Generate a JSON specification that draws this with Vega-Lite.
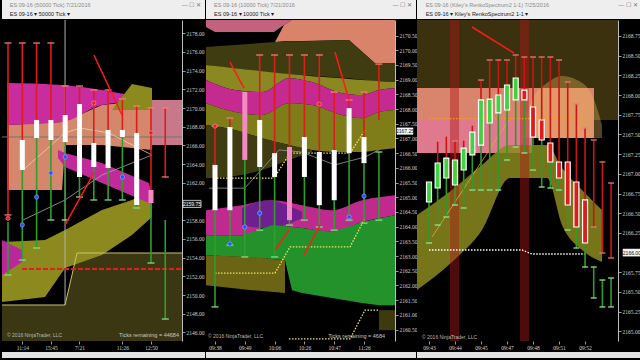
{
"$schema": "https://vega.github.io/schema/vega-lite/v6.json",
"background": "#000000",
"padding": 0,
"columns": 3,
"spacing": {"row": 1, "column": 1},
"bounds": "flush",
"align": "each",
"resolve": {"scale": {"color": "independent"}},
"config": {
 "view": {"stroke": null},
 "font": "Liberation Sans",
 "scale": {"continuousPadding": 0},
 "axis": {"grid": false, "labelColor": "#d2d2d2", "labelFont": "Liberation Sans Narrow", "labelFontSize": 5.5, "tickColor": "#9a9a9a", "tickSize": 3, "labelPadding": 1, "domainColor": "#bdbdbd", "labelOverlap": false, "labelFlush": false},
 "axisX": {"domain": false}
},
"datasets": {
 "p1b": [
  {"b":"darkolive","i":0.58,"p":2148.94,"q":2145.09},{"b":"darkolive","i":4.99,"p":2148.94,"q":2145.09},{"b":"darkolive","i":5.83,"p":2154.5,"q":2145.09},{"b":"darkolive","i":13.17,"p":2154.5,"q":2145.09},
  {"b":"peach","i":0.93,"p":2168.19,"q":2161.24},{"b":"peach","i":4.78,"p":2168.51,"q":2161.24},{"b":"peach","i":4.99,"p":2168.6,"q":2166.05},{"b":"peach","i":7.57,"p":2170.33,"q":2166.05},{"b":"peach","i":11.07,"p":2170.87,"q":2165.52},
  {"b":"mauve","i":11.07,"p":2170.87,"q":2166.05},{"b":"mauve","i":13.17,"p":2170.87,"q":2166.05},
  {"b":"mag1","i":0.93,"p":2172.68,"q":2168.19},{"b":"mag1","i":4.78,"p":2172.47,"q":2168.51},{"b":"mag1","i":7.57,"p":2171.94,"q":2170.33},{"b":"mag1","i":11.07,"p":2170.87,"q":2170.87},
  {"b":"olivetri","i":8.27,"p":2169.8,"q":2169.8},{"b":"olivetri","i":9.67,"p":2172.58,"q":2169.8},{"b":"olivetri","i":11.07,"p":2172.15,"q":2169.8},
  {"b":"olive","i":0.58,"p":2155.68,"q":2149.26},{"b":"olive","i":3.59,"p":2155.89,"q":2149.8},{"b":"olive","i":4.99,"p":2156.96,"q":2152.9},{"b":"olive","i":7.57,"p":2159.1,"q":2154.29},{"b":"olive","i":9.67,"p":2160.17,"q":2156.43},{"b":"olive","i":11.07,"p":2161.24,"q":2158.35},
  {"b":"mag2","i":4.5,"p":2165.52,"q":2164.66},{"b":"mag2","i":4.99,"p":2165.2,"q":2163.7},{"b":"mag2","i":7.57,"p":2164.13,"q":2161.99},{"b":"mag2","i":10.86,"p":2161.99,"q":2159.85},{"b":"mag2","i":11.07,"p":2160.71,"q":2159.64},
  {"b":"mag3","i":0.58,"p":2155.89,"q":2152.15},{"b":"mag3","i":1.98,"p":2154.82,"q":2153.54}
 ],
 "p1l": [
  {"l":"border","i":0.58,"p":2148.94},{"l":"border","i":4.99,"p":2148.94},{"l":"border","i":5.83,"p":2154.5},{"l":"border","i":13.17,"p":2154.5},
  {"l":"reddash","i":1.98,"p":2152.79},{"l":"reddash","i":13.17,"p":2152.79},
  {"l":"vgray","i":4.99,"p":2179.42},{"l":"vgray","i":4.99,"p":2148.94},
  {"l":"hgray","i":0.58,"p":2166.91},{"l":"hgray","i":13.17,"p":2166.91},
  {"l":"gray2","i":2.05,"p":2158.03},{"l":"gray2","i":4.99,"p":2160.17},{"l":"gray2","i":7.57,"p":2162.84},{"l":"gray2","i":11.07,"p":2164.98},
  {"l":"ma","i":2.05,"p":2163.38},{"l":"ma","i":4.99,"p":2167.34},{"l":"ma","i":6.03,"p":2167.87},{"l":"ma","i":8.06,"p":2167.34},{"l":"ma","i":11.07,"p":2164.98}
 ],
 "p1c": [
  {"i":1,"hi":2176.96,"bt":2158.57,"bb":2157.82,"lo":2152.15,"d":"gap"},
  {"i":2,"hi":2176.96,"bt":2166.59,"bb":2163.38,"lo":2153.75,"d":"up"},
  {"i":3,"hi":2176.96,"bt":2168.73,"bb":2166.8,"lo":2155.04,"d":"up"},
  {"i":4,"hi":2176.96,"bt":2168.73,"bb":2166.59,"lo":2158.03,"d":"up"},
  {"i":5,"hi":2172.36,"bt":2169.26,"bb":2166.37,"lo":2158.03,"d":"up"},
  {"i":6,"hi":2172.36,"bt":2170.44,"bb":2162.63,"lo":2160.49,"d":"up"},
  {"i":7,"hi":2171.94,"bt":2166.27,"bb":2163.7,"lo":2160.17,"d":"up"},
  {"i":8,"hi":2171.94,"bt":2167.66,"bb":2163.59,"lo":2160.17,"d":"up"},
  {"i":9,"hi":2170.97,"bt":2167.66,"bb":2166.91,"lo":2160.17,"d":"up"},
  {"i":10,"hi":2170.22,"bt":2167.34,"bb":2159.64,"lo":2159.32,"d":"up"},
  {"i":11,"hi":2170.01,"bt":2161.24,"bb":2159.85,"lo":2153.43,"d":"down"},
  {"i":12,"hi":2170.01,"bt":2162.63,"bb":2158.03,"lo":2147.44,"d":"gap"}
 ],
 "p1d": [
  {"k":"blue","i":2,"p":2157.5},{"k":"blue","i":3,"p":2160.49},{"k":"blue","i":4,"p":2163.06},{"k":"blue","i":5,"p":2164.77},{"k":"blue","i":9,"p":2162.63},
  {"k":"red","i":7,"p":2170.55},{"k":"red","i":11,"p":2167.34},{"k":"red","i":1,"p":2158.2}
 ],
 "p1a": [
  {"i":7.01,"p":2175.68,"i2":8.97,"q":2169.26},{"i":4.99,"p":2157.5,"i2":7.01,"q":2163.06}
 ],
 "p1t": [
  {"k":"copy","i":0.93,"p":2145.75,"t":"© 2016 NinjaTrader, LLC"},{"k":"ticks","i":12.96,"p":2145.75,"t":"Ticks remaining = 44684"},
  {"k":"price","i":13.87,"p":2159.75,"t":"2159.75"}
 ],
 "p1m": [{"i":13.24,"i2":14.5,"p":2160.13,"q":2159.37}],
 "p2b": [
  {"b":"pinkTL","i":0.396,"p":2171.03,"q":2170.79},{"b":"pinkTL","i":1.0,"p":2171.03,"q":2170.62},{"b":"pinkTL","i":4.96,"p":2171.03,"q":2170.62},{"b":"pinkTL","i":5.631,"p":2171.03,"q":2170.86},{"b":"pinkTL","i":6.168,"p":2171.03,"q":2171.03},
  {"b":"salmon","i":5.027,"p":2170.28,"q":2170.28},{"b":"salmon","i":5.631,"p":2170.86,"q":2170.31},{"b":"salmon","i":6.168,"p":2171.03,"q":2170.31},{"b":"salmon","i":9.993,"p":2171.03,"q":2170.35},{"b":"salmon","i":11.738,"p":2171.03,"q":2169.56},{"b":"salmon","i":13.08,"p":2171.03,"q":2169.56},
  {"b":"dko","i":0.396,"p":2170.11,"q":2169.5},{"b":"dko","i":5.027,"p":2170.28,"q":2169.22},{"b":"dko","i":9.993,"p":2170.35,"q":2169.05},{"b":"dko","i":11.738,"p":2169.56,"q":2168.95},{"b":"dko","i":13.08,"p":2169.56,"q":2168.92},
  {"b":"olive","i":0.396,"p":2169.5,"q":2168.99},{"b":"olive","i":2.342,"p":2169.39,"q":2168.65},{"b":"olive","i":4.154,"p":2169.29,"q":2168.58},{"b":"olive","i":5.966,"p":2169.19,"q":2169.05},{"b":"olive","i":7.51,"p":2169.12,"q":2168.92},{"b":"olive","i":9.517,"p":2169.05,"q":2168.54},{"b":"olive","i":10.866,"p":2168.99,"q":2168.48},{"b":"olive","i":12.007,"p":2168.95,"q":2168.65},{"b":"olive","i":13.08,"p":2168.92,"q":2168.71},
  {"b":"mag","i":0.396,"p":2168.99,"q":2168.2},{"b":"mag","i":2.342,"p":2168.65,"q":2167.9},{"b":"mag","i":4.154,"p":2168.58,"q":2167.8},{"b":"mag","i":5.966,"p":2169.05,"q":2168.2},{"b":"mag","i":7.51,"p":2168.92,"q":2168.14},{"b":"mag","i":9.517,"p":2168.54,"q":2167.8},{"b":"mag","i":10.866,"p":2168.48,"q":2167.69},{"b":"mag","i":12.007,"p":2168.65,"q":2167.9},{"b":"mag","i":13.08,"p":2168.71,"q":2167.97},
  {"b":"olive2","i":0.396,"p":2168.2,"q":2167.46},{"b":"olive2","i":2.342,"p":2167.9,"q":2167.29},{"b":"olive2","i":4.154,"p":2167.8,"q":2167.01},{"b":"olive2","i":5.966,"p":2168.2,"q":2166.78},{"b":"olive2","i":7.51,"p":2168.14,"q":2166.61},{"b":"olive2","i":9.517,"p":2167.8,"q":2166.54},{"b":"olive2","i":10.866,"p":2167.69,"q":2166.54},{"b":"olive2","i":12.007,"p":2167.9,"q":2166.61},{"b":"olive2","i":13.08,"p":2167.97,"q":2166.67},
  {"b":"dko2","i":0.396,"p":2167.46,"q":2165.65},{"b":"dko2","i":2.342,"p":2167.29,"q":2165.72},{"b":"dko2","i":4.154,"p":2167.01,"q":2165.93},{"b":"dko2","i":5.966,"p":2166.78,"q":2166.27},{"b":"dko2","i":7.51,"p":2166.61,"q":2166.54},
  {"b":"mag2","i":0.396,"p":2164.56,"q":2163.71},{"b":"mag2","i":2.812,"p":2164.73,"q":2163.71},{"b":"mag2","i":4.826,"p":2164.9,"q":2164.05},{"b":"mag2","i":6.839,"p":2164.73,"q":2163.95},{"b":"mag2","i":8.852,"p":2164.56,"q":2163.82},{"b":"mag2","i":10.866,"p":2164.9,"q":2164.16},{"b":"mag2","i":13.08,"p":2165.07,"q":2164.39},
  {"b":"purple","i":2.812,"p":2164.63,"q":2164.05},{"b":"purple","i":4.49,"p":2164.9,"q":2163.95},{"b":"purple","i":6.839,"p":2164.5,"q":2164.29},
  {"b":"green","i":0.396,"p":2163.71,"q":2163.03},{"b":"green","i":2.812,"p":2163.71,"q":2162.97},{"b":"green","i":4.826,"p":2164.05,"q":2162.9},{"b":"green","i":5.698,"p":2164.02,"q":2162.86},{"b":"green","i":6.168,"p":2163.99,"q":2161.84},{"b":"green","i":6.839,"p":2163.95,"q":2161.74},{"b":"green","i":8.852,"p":2163.82,"q":2161.57},{"b":"green","i":10.866,"p":2164.16,"q":2161.4},{"b":"green","i":12.007,"p":2164.29,"q":2161.33},{"b":"green","i":13.08,"p":2164.39,"q":2161.33},
  {"b":"olive3","i":0.396,"p":2163.03,"q":2162.01},{"b":"olive3","i":3.483,"p":2162.97,"q":2161.84},{"b":"olive3","i":5.698,"p":2162.86,"q":2161.74},
  {"b":"dko3","i":12.007,"p":2161.16,"q":2160.48},{"b":"dko3","i":13.08,"p":2161.16,"q":2160.48}
 ],
 "p2l": [
  {"l":"yd1","i":1.0,"p":2162.42},{"l":"yd1","i":5.027,"p":2162.42},{"l":"yd1","i":6.034,"p":2163.31},{"l":"yd1","i":10.06,"p":2163.31},{"l":"yd1","i":11.067,"p":2164.29},
  {"l":"yd2","i":1.134,"p":2165.65},{"l":"yd2","i":4.96,"p":2165.65},{"l":"yd2","i":6.034,"p":2166.5},{"l":"yd2","i":10.06,"p":2166.5},{"l":"yd2","i":11.067,"p":2167.29},
  {"l":"yd3","i":5.966,"p":2160.18},{"l":"yd3","i":10.06,"p":2160.18},{"l":"yd3","i":11.067,"p":2161.16},{"l":"yd3","i":12.007,"p":2161.16},
  {"l":"gray","i":0.6,"p":2165.31},{"l":"gray","i":3.0,"p":2165.31},{"l":"gray","i":5.3,"p":2166.61},{"l":"gray","i":6.8,"p":2166.54},{"l":"gray","i":9.05,"p":2166.1},{"l":"gray","i":11.07,"p":2166.37},{"l":"gray","i":12.0,"p":2166.61}
 ],
 "p2c": [
  {"i":1,"hi":2167.42,"bt":2166.1,"bb":2164.56,"lo":2161.27,"d":"up"},
  {"i":2,"hi":2167.69,"bt":2167.39,"bb":2164.56,"lo":2163.37,"d":"up"},
  {"i":3,"hi":2168.58,"bt":2168.58,"bb":2166.27,"lo":2162.97,"d":"down"},
  {"i":4,"hi":2169.84,"bt":2167.63,"bb":2166.03,"lo":2163.88,"d":"up"},
  {"i":5,"hi":2169.84,"bt":2166.5,"bb":2165.69,"lo":2162.97,"d":"up"},
  {"i":6,"hi":2169.84,"bt":2166.71,"bb":2164.22,"lo":2164.05,"d":"down"},
  {"i":7,"hi":2169.84,"bt":2167.05,"bb":2165.69,"lo":2164.22,"d":"up"},
  {"i":8,"hi":2169.84,"bt":2166.54,"bb":2164.73,"lo":2163.99,"d":"up"},
  {"i":9,"hi":2168.58,"bt":2166.61,"bb":2164.9,"lo":2163.88,"d":"up"},
  {"i":10,"hi":2168.31,"bt":2168.03,"bb":2166.5,"lo":2164.22,"d":"up"},
  {"i":11,"hi":2168.58,"bt":2167.05,"bb":2166.16,"lo":2164.12,"d":"up"},
  {"i":12,"hi":2169.53,"bt":2167.63,"bb":2166.54,"lo":2164.22,"d":"gap"}
 ],
 "p2d": [
  {"k":"blue","i":2,"p":2163.41},{"k":"blue","i":3,"p":2163.99},{"k":"blue","i":4,"p":2164.46},{"k":"blue","i":10,"p":2164.33},{"k":"blue","i":11,"p":2165.04},
  {"k":"red","i":8,"p":2168.17},{"k":"red","i":1,"p":2167.42}
 ],
 "p2a": [
  {"i":2.007,"p":2169.6,"i2":2.946,"q":2168.71},{"i":9.054,"p":2169.94,"i2":9.993,"q":2168.31},{"i":5.027,"p":2163.2,"i2":5.966,"q":2163.88},{"i":6.973,"p":2163.03,"i2":8.047,"q":2164.05}
 ],
 "p2t": [
  {"k":"copy","i":0.53,"p":2160.28,"t":"© 2016 NinjaTrader, LLC"},{"k":"ticks","i":12.41,"p":2160.28,"t":"Ticks remaining = 4684"},
  {"k":"price","i":13.75,"p":2167.25,"t":"2167.25"}
 ],
 "p2m": [{"i":13.214,"i2":14.29,"p":2167.36,"q":2167.14}],
 "p3b": [
  {"b":"dko","i":-0.384,"p":2168.952,"q":2168.089},{"b":"dko","i":20.03,"p":2168.952,"q":2168.089},{"b":"dko","i":20.04,"p":2168.952,"q":2167.683},{"b":"dko","i":22.8,"p":2168.952,"q":2167.683},
  {"b":"salmon","i":-0.384,"p":2168.089,"q":2167.683},{"b":"salmon","i":12.88,"p":2168.089,"q":2167.683},{"b":"salmon","i":12.89,"p":2168.089,"q":2167.454},{"b":"salmon","i":20.03,"p":2168.089,"q":2167.454},
  {"b":"pink","i":-0.384,"p":2167.683,"q":2167.264},{"b":"pink","i":12.88,"p":2167.683,"q":2167.264},
  {"b":"arc","i":11.727,"p":2167.454,"q":2167.454},{"b":"arc","i":12.88,"p":2167.937,"q":2167.454},{"b":"arc","i":14.61,"p":2168.152,"q":2167.454},{"b":"arc","i":16.34,"p":2168.241,"q":2167.454},{"b":"arc","i":18.07,"p":2168.19,"q":2167.454},{"b":"arc","i":19.8,"p":2168.0,"q":2167.454},{"b":"arc","i":20.954,"p":2167.619,"q":2167.454},
  {"b":"olive","i":-0.384,"p":2166.477,"q":2165.525},{"b":"olive","i":3.653,"p":2166.794,"q":2165.881},{"b":"olive","i":7.113,"p":2167.112,"q":2166.287},{"b":"olive","i":10.343,"p":2167.365,"q":2166.947},{"b":"olive","i":14.61,"p":2167.365,"q":2166.947},{"b":"olive","i":16.34,"p":2167.074,"q":2166.35},{"b":"olive","i":18.647,"p":2166.794,"q":2166.033},{"b":"olive","i":20.954,"p":2166.541,"q":2165.881}
 ],
 "p3r": [
  {"i":3.42,"i2":4.46,"p":2168.952,"q":2164.878},{"i":11.5,"i2":12.53,"p":2168.952,"q":2164.878}
 ],
 "p3l": [
  {"l":"ydiag","i":1.346,"p":2166.198},{"l":"ydiag","i":10.227,"p":2167.683},
  {"l":"odot","i":1,"p":2167.7},{"l":"odot","i":18.993,"p":2167.7},
  {"l":"wdot","i":1,"p":2166.033},{"l":"wdot","i":11.727,"p":2166.033},{"l":"wdot","i":12.88,"p":2165.982},{"l":"wdot","i":18.993,"p":2165.982}
 ],
 "p3c": [
  {"i":1,"hi":2166.896,"bt":2166.896,"bb":2166.642,"lo":2166.122,"d":"up"},
  {"i":2,"hi":2167.416,"bt":2167.137,"bb":2166.82,"lo":2166.35,"d":"up"},
  {"i":3,"hi":2167.48,"bt":2167.2,"bb":2166.947,"lo":2166.452,"d":"up"},
  {"i":4,"hi":2167.416,"bt":2167.175,"bb":2166.858,"lo":2166.604,"d":"up"},
  {"i":5,"hi":2167.429,"bt":2167.327,"bb":2167.048,"lo":2166.566,"d":"up"},
  {"i":6,"hi":2167.619,"bt":2167.53,"bb":2167.239,"lo":2166.794,"d":"up"},
  {"i":7,"hi":2168.19,"bt":2167.937,"bb":2167.365,"lo":2166.794,"d":"up"},
  {"i":8,"hi":2168.444,"bt":2167.949,"bb":2167.645,"lo":2166.794,"d":"up"},
  {"i":9,"hi":2168.444,"bt":2168.0,"bb":2167.772,"lo":2166.794,"d":"up"},
  {"i":10,"hi":2168.444,"bt":2168.127,"bb":2167.81,"lo":2167.175,"d":"up"},
  {"i":11,"hi":2168.508,"bt":2168.216,"bb":2167.937,"lo":2167.34,"d":"up"},
  {"i":12,"hi":2168.482,"bt":2168.063,"bb":2167.937,"lo":2167.264,"d":"down"},
  {"i":13,"hi":2168.482,"bt":2167.848,"bb":2167.467,"lo":2167.048,"d":"down"},
  {"i":14,"hi":2168.482,"bt":2167.683,"bb":2167.429,"lo":2166.832,"d":"down"},
  {"i":15,"hi":2168.482,"bt":2167.391,"bb":2167.15,"lo":2166.82,"d":"down"},
  {"i":16,"hi":2168.444,"bt":2167.15,"bb":2166.947,"lo":2166.794,"d":"down"},
  {"i":17,"hi":2168.165,"bt":2167.15,"bb":2166.604,"lo":2166.287,"d":"down"},
  {"i":18,"hi":2167.886,"bt":2166.896,"bb":2166.325,"lo":2166.058,"d":"down"},
  {"i":19,"hi":2167.581,"bt":2166.668,"bb":2166.122,"lo":2165.817,"d":"down"},
  {"i":20,"hi":2167.429,"bt":2166.325,"bb":2165.817,"lo":2165.424,"d":"gap"},
  {"i":21,"hi":2167.15,"bt":2165.995,"bb":2165.652,"lo":2165.31,"d":"gap"},
  {"i":22,"hi":2166.883,"bt":2165.931,"bb":2165.678,"lo":2165.31,"d":"gap"}
 ],
 "p3a": [
  {"i":5.96,"p":2168.863,"i2":10.804,"q":2168.533}
 ],
 "p3t": [
  {"k":"copy","i":0.19,"p":2164.93,"t":"© 2016 NinjaTrader, LLC"},
  {"k":"price","i":24.4,"p":2166.0,"t":"2166.00"}
 ],
 "p3m": [{"i":23.38,"i2":25.5,"p":2166.045,"q":2165.955}]
},
"concat": [
 {"width": 203, "height": 19, "view": {"fill": "#eeeeee", "stroke": null},
  "encoding": {"y": {"field": "r", "type": "ordinal", "axis": null}, "text": {"field": "t"}},
  "layer": [
   {"data": {"values": [{"r": 1, "t": "ES 09-16 (50000 Tick)  7/21/2016"}]}, "mark": {"type": "text", "align": "left", "fontSize": 5.5, "color": "#8a8a8a"},
    "encoding": {"x": {"datum": 0, "type": "quantitative", "scale": {"domain": [-0.04, 1]}, "axis": null}}},
   {"data": {"values": [{"r": 2, "t": "ES 09-16 ▾   50000 Tick ▾"}]}, "mark": {"type": "text", "align": "left", "fontSize": 5.5, "color": "#1a1a1a"},
    "encoding": {"x": {"datum": 0, "type": "quantitative", "scale": {"domain": [-0.04, 1]}, "axis": null}}},
   {"data": {"values": [{"r": 1, "t": "—      ☐      ✕"}]}, "mark": {"type": "text", "align": "right", "fontSize": 6, "color": "#777777"},
    "encoding": {"x": {"datum": 0.98, "type": "quantitative", "scale": {"domain": [-0.04, 1]}, "axis": null}}}
  ]},
 {"width": 210, "height": 19, "view": {"fill": "#eeeeee", "stroke": null},
  "encoding": {"y": {"field": "r", "type": "ordinal", "axis": null}, "text": {"field": "t"}},
  "layer": [
   {"data": {"values": [{"r": 1, "t": "ES 09-16 (10000 Tick)  7/21/2016"}]}, "mark": {"type": "text", "align": "left", "fontSize": 5.5, "color": "#8a8a8a"},
    "encoding": {"x": {"datum": 0, "type": "quantitative", "scale": {"domain": [-0.04, 1]}, "axis": null}}},
   {"data": {"values": [{"r": 2, "t": "ES 09-16 ▾   10000 Tick ▾"}]}, "mark": {"type": "text", "align": "left", "fontSize": 5.5, "color": "#1a1a1a"},
    "encoding": {"x": {"datum": 0, "type": "quantitative", "scale": {"domain": [-0.04, 1]}, "axis": null}}},
   {"data": {"values": [{"r": 1, "t": "—      ☐      ✕"}]}, "mark": {"type": "text", "align": "right", "fontSize": 6, "color": "#777777"},
    "encoding": {"x": {"datum": 0.98, "type": "quantitative", "scale": {"domain": [-0.04, 1]}, "axis": null}}}
  ]},
 {"width": 225, "height": 19, "view": {"fill": "#eeeeee", "stroke": null},
  "encoding": {"y": {"field": "r", "type": "ordinal", "axis": null}, "text": {"field": "t"}},
  "layer": [
   {"data": {"values": [{"r": 1, "t": "ES 09-16 (Kiley's RenkoSpectrum2  1-1)  7/25/2016"}]}, "mark": {"type": "text", "align": "left", "fontSize": 5.5, "color": "#8a8a8a"},
    "encoding": {"x": {"datum": 0, "type": "quantitative", "scale": {"domain": [-0.04, 1]}, "axis": null}}},
   {"data": {"values": [{"r": 2, "t": "ES 09-16 ▾   Kiley's RenkoSpectrum2  1-1 ▾"}]}, "mark": {"type": "text", "align": "left", "fontSize": 5.5, "color": "#1a1a1a"},
    "encoding": {"x": {"datum": 0, "type": "quantitative", "scale": {"domain": [-0.04, 1]}, "axis": null}}},
   {"data": {"values": [{"r": 1, "t": "—      ☐      ✕"}]}, "mark": {"type": "text", "align": "right", "fontSize": 6, "color": "#777777"},
    "encoding": {"x": {"datum": 0.98, "type": "quantitative", "scale": {"domain": [-0.04, 1]}, "axis": null}}}
  ]},

 {"width": 180, "height": 321, "view": {"fill": "#000000", "stroke": null},
  "encoding": {
   "x": {"field": "i", "type": "quantitative", "title": null, "scale": {"domain": [0.58, 13.17], "nice": false, "zero": false, "padding": 0},
    "axis": {"values": [2, 4, 6, 9, 11], "labelExpr": "datum.value==2?'11:14':datum.value==4?'15:45':datum.value==6?'7/21':datum.value==9?'11:26':'12:50'"}},
   "y": {"field": "p", "type": "quantitative", "title": null, "scale": {"domain": [2145.09, 2179.42], "nice": false, "zero": false, "padding": 0},
    "axis": {"orient": "right", "format": ".2f", "values": [2146,2148,2150,2152,2154,2156,2158,2162,2164,2166,2168,2170,2172,2174,2176,2178]}}
  },
  "layer": [
   {"data": {"name": "p1b"}, "transform": [{"filter": "datum.b=='darkolive'"}], "mark": {"type": "area", "orient": "vertical", "color": "#3b3712"}, "encoding": {"y2": {"field": "q"}}},
   {"data": {"name": "p1b"}, "transform": [{"filter": "datum.b=='peach'"}], "mark": {"type": "area", "orient": "vertical", "color": "#d4876a"}, "encoding": {"y2": {"field": "q"}}},
   {"data": {"name": "p1b"}, "transform": [{"filter": "datum.b=='mauve'"}], "mark": {"type": "area", "orient": "vertical", "color": "#c9788a"}, "encoding": {"y2": {"field": "q"}}},
   {"data": {"name": "p1b"}, "transform": [{"filter": "datum.b=='mag1'"}], "mark": {"type": "area", "orient": "vertical", "color": "#c92c9e", "interpolate": "monotone"}, "encoding": {"y2": {"field": "q"}}},
   {"data": {"name": "p1b"}, "transform": [{"filter": "datum.b=='olivetri'"}], "mark": {"type": "area", "orient": "vertical", "color": "#8c8a1f"}, "encoding": {"y2": {"field": "q"}}},
   {"data": {"name": "p1b"}, "transform": [{"filter": "datum.b=='olive'"}], "mark": {"type": "area", "orient": "vertical", "color": "#8c8a1f"}, "encoding": {"y2": {"field": "q"}}},
   {"data": {"name": "p1b"}, "transform": [{"filter": "datum.b=='mag2'"}], "mark": {"type": "area", "orient": "vertical", "color": "#c02a9a"}, "encoding": {"y2": {"field": "q"}}},
   {"data": {"name": "p1b"}, "transform": [{"filter": "datum.b=='mag3'"}], "mark": {"type": "area", "orient": "vertical", "color": "#b8289a"}, "encoding": {"y2": {"field": "q"}}},
   {"data": {"name": "p1l"}, "transform": [{"filter": "datum.l=='border'"}], "mark": {"type": "line", "color": "#c8c46a", "strokeWidth": 1}},
   {"data": {"name": "p1l"}, "transform": [{"filter": "datum.l=='vgray'"}], "mark": {"type": "line", "color": "#b0b0b0", "strokeWidth": 1}},
   {"data": {"name": "p1l"}, "transform": [{"filter": "datum.l=='hgray'"}], "mark": {"type": "line", "color": "#6f7a6f", "strokeWidth": 1}},
   {"data": {"name": "p1l"}, "transform": [{"filter": "datum.l=='reddash'"}], "mark": {"type": "line", "color": "#e02020", "strokeWidth": 2, "strokeDash": [5, 2]}},
   {"data": {"name": "p1l"}, "transform": [{"filter": "datum.l=='gray2'"}], "mark": {"type": "line", "color": "#a8a8a8", "strokeWidth": 0.8}},
   {"data": {"name": "p1l"}, "transform": [{"filter": "datum.l=='ma'"}], "mark": {"type": "line", "color": "#ead2b4", "strokeWidth": 0.8}},
   {"data": {"name": "p1c"}, "mark": {"type": "rule", "color": "#dd1c1c", "strokeWidth": 1.6},
    "encoding": {"y": {"field": "hi", "type": "quantitative", "title": null, "scale": {"domain": [2145.09, 2179.42], "nice": false, "zero": false, "padding": 0}, "axis": {"orient": "right", "format": ".2f", "values": [2146,2148,2150,2152,2154,2156,2158,2162,2164,2166,2168,2170,2172,2174,2176,2178]}}, "y2": {"field": "bt"}}},
   {"data": {"name": "p1c"}, "mark": {"type": "rule", "color": "#2e9e2e", "strokeWidth": 1.6},
    "encoding": {"y": {"field": "bb", "type": "quantitative", "title": null, "scale": {"domain": [2145.09, 2179.42], "nice": false, "zero": false, "padding": 0}, "axis": {"orient": "right", "format": ".2f", "values": [2146,2148,2150,2152,2154,2156,2158,2162,2164,2166,2168,2170,2172,2174,2176,2178]}}, "y2": {"field": "lo"}}},
   {"data": {"name": "p1c"}, "transform": [{"filter": "datum.d=='up'"}], "mark": {"type": "bar", "width": 5, "color": "#ffffff"},
    "encoding": {"y": {"field": "bt", "type": "quantitative", "title": null, "scale": {"domain": [2145.09, 2179.42], "nice": false, "zero": false, "padding": 0}, "axis": {"orient": "right", "format": ".2f", "values": [2146,2148,2150,2152,2154,2156,2158,2162,2164,2166,2168,2170,2172,2174,2176,2178]}}, "y2": {"field": "bb"}}},
   {"data": {"name": "p1c"}, "transform": [{"filter": "datum.d=='down'"}], "mark": {"type": "bar", "width": 5, "color": "#f28ac4"},
    "encoding": {"y": {"field": "bt", "type": "quantitative", "title": null, "scale": {"domain": [2145.09, 2179.42], "nice": false, "zero": false, "padding": 0}, "axis": {"orient": "right", "format": ".2f", "values": [2146,2148,2150,2152,2154,2156,2158,2162,2164,2166,2168,2170,2172,2174,2176,2178]}}, "y2": {"field": "bb"}}},
   {"data": {"name": "p1c"}, "transform": [{"filter": "datum.hi>datum.bt"}], "mark": {"type": "tick", "orient": "horizontal", "color": "#ff7a7a", "size": 7, "thickness": 1.8},
    "encoding": {"y": {"field": "hi", "type": "quantitative", "title": null, "scale": {"domain": [2145.09, 2179.42], "nice": false, "zero": false, "padding": 0}, "axis": {"orient": "right", "format": ".2f", "values": [2146,2148,2150,2152,2154,2156,2158,2162,2164,2166,2168,2170,2172,2174,2176,2178]}}}},
   {"data": {"name": "p1c"}, "mark": {"type": "tick", "orient": "horizontal", "color": "#86e086", "size": 7, "thickness": 1.8},
    "encoding": {"y": {"field": "lo", "type": "quantitative", "title": null, "scale": {"domain": [2145.09, 2179.42], "nice": false, "zero": false, "padding": 0}, "axis": {"orient": "right", "format": ".2f", "values": [2146,2148,2150,2152,2154,2156,2158,2162,2164,2166,2168,2170,2172,2174,2176,2178]}}}},
   {"data": {"name": "p1c"}, "transform": [{"filter": "datum.d=='gap'"}], "mark": {"type": "tick", "orient": "horizontal", "color": "#ff7a7a", "size": 7, "thickness": 1.8},
    "encoding": {"y": {"field": "bt", "type": "quantitative", "title": null, "scale": {"domain": [2145.09, 2179.42], "nice": false, "zero": false, "padding": 0}, "axis": {"orient": "right", "format": ".2f", "values": [2146,2148,2150,2152,2154,2156,2158,2162,2164,2166,2168,2170,2172,2174,2176,2178]}}}},
   {"data": {"name": "p1d"}, "transform": [{"filter": "datum.k=='blue'"}], "mark": {"type": "circle", "color": "#2450ff", "size": 18, "opacity": 1, "stroke": "#9ab0ff", "strokeWidth": 0.6}},
   {"data": {"name": "p1d"}, "transform": [{"filter": "datum.k=='red'"}], "mark": {"type": "circle", "color": "#e82020", "size": 18, "opacity": 1, "stroke": "#ff9a9a", "strokeWidth": 0.6}},
   {"data": {"name": "p1a"}, "mark": {"type": "rule", "color": "#ff1a1a", "strokeWidth": 1.5}, "encoding": {"x2": {"field": "i2"}, "y2": {"field": "q"}}},
   {"data": {"name": "p1m"}, "mark": {"type": "rect", "color": "#1a1a1a", "stroke": "#e0e0e0", "strokeWidth": 0.8}, "encoding": {"x2": {"field": "i2"}, "y2": {"field": "q"}}},
   {"data": {"name": "p1t"}, "transform": [{"filter": "datum.k=='price'"}], "mark": {"type": "text", "align": "center", "fontSize": 5, "color": "#f0f0f0"}, "encoding": {"text": {"field": "t"}}},
   {"data": {"name": "p1t"}, "transform": [{"filter": "datum.k=='copy'"}], "mark": {"type": "text", "align": "left", "fontSize": 5, "color": "#b8b8b8"}, "encoding": {"text": {"field": "t"}}},
   {"data": {"name": "p1t"}, "transform": [{"filter": "datum.k=='ticks'"}], "mark": {"type": "text", "align": "right", "fontSize": 5.5, "color": "#c8c8c8"}, "encoding": {"text": {"field": "t"}}}
  ]
 },

 {"width": 189, "height": 321, "view": {"fill": "#000000", "stroke": null},
  "encoding": {
   "x": {"field": "i", "type": "quantitative", "title": null, "scale": {"domain": [0.396, 13.08], "nice": false, "zero": false, "padding": 0},
    "axis": {"values": [1, 3, 5, 7, 9, 11], "labelExpr": "datum.value==1?'09:38':datum.value==3?'09:49':datum.value==5?'10:06':datum.value==7?'10:26':datum.value==9?'10:47':'11:26'"}},
   "y": {"field": "p", "type": "quantitative", "title": null, "scale": {"domain": [2160.11, 2171.03], "nice": false, "zero": false, "padding": 0},
    "axis": {"orient": "right", "format": ".2f", "values": [2160.5,2161,2161.5,2162,2162.5,2163,2163.5,2164,2164.5,2165,2165.5,2166,2166.5,2167,2167.5,2168,2168.5,2169,2169.5,2170,2170.5]}}
  },
  "layer": [
   {"data": {"name": "p2b"}, "transform": [{"filter": "datum.b=='pinkTL'"}], "mark": {"type": "area", "orient": "vertical", "color": "#c2627f"}, "encoding": {"y2": {"field": "q"}}},
   {"data": {"name": "p2b"}, "transform": [{"filter": "datum.b=='salmon'"}], "mark": {"type": "area", "orient": "vertical", "color": "#d9836b"}, "encoding": {"y2": {"field": "q"}}},
   {"data": {"name": "p2b"}, "transform": [{"filter": "datum.b=='dko'"}], "mark": {"type": "area", "orient": "vertical", "color": "#3e3c10"}, "encoding": {"y2": {"field": "q"}}},
   {"data": {"name": "p2b"}, "transform": [{"filter": "datum.b=='olive'"}], "mark": {"type": "area", "orient": "vertical", "color": "#8a8820", "interpolate": "monotone"}, "encoding": {"y2": {"field": "q"}}},
   {"data": {"name": "p2b"}, "transform": [{"filter": "datum.b=='mag'"}], "mark": {"type": "area", "orient": "vertical", "color": "#c42a90", "interpolate": "monotone"}, "encoding": {"y2": {"field": "q"}}},
   {"data": {"name": "p2b"}, "transform": [{"filter": "datum.b=='olive2'"}], "mark": {"type": "area", "orient": "vertical", "color": "#7f7d1a", "interpolate": "monotone"}, "encoding": {"y2": {"field": "q"}}},
   {"data": {"name": "p2b"}, "transform": [{"filter": "datum.b=='dko2'"}], "mark": {"type": "area", "orient": "vertical", "color": "#3e3c10", "interpolate": "monotone"}, "encoding": {"y2": {"field": "q"}}},
   {"data": {"name": "p2b"}, "transform": [{"filter": "datum.b=='mag2'"}], "mark": {"type": "area", "orient": "vertical", "color": "#c02a8e", "interpolate": "monotone"}, "encoding": {"y2": {"field": "q"}}},
   {"data": {"name": "p2b"}, "transform": [{"filter": "datum.b=='purple'"}], "mark": {"type": "area", "orient": "vertical", "color": "#6f1f8f", "interpolate": "monotone"}, "encoding": {"y2": {"field": "q"}}},
   {"data": {"name": "p2b"}, "transform": [{"filter": "datum.b=='green'"}], "mark": {"type": "area", "orient": "vertical", "color": "#23922a"}, "encoding": {"y2": {"field": "q"}}},
   {"data": {"name": "p2b"}, "transform": [{"filter": "datum.b=='olive3'"}], "mark": {"type": "area", "orient": "vertical", "color": "#6a6414"}, "encoding": {"y2": {"field": "q"}}},
   {"data": {"name": "p2b"}, "transform": [{"filter": "datum.b=='dko3'"}], "mark": {"type": "area", "orient": "vertical", "color": "#3e3a10"}, "encoding": {"y2": {"field": "q"}}},
   {"data": {"name": "p2l"}, "transform": [{"filter": "datum.l=='gray'"}], "mark": {"type": "line", "color": "#9a9a9a", "strokeWidth": 0.8}},
   {"data": {"name": "p2l"}, "transform": [{"filter": "datum.l=='yd1'"}], "mark": {"type": "line", "color": "#f2e860", "strokeWidth": 1.3, "strokeDash": [1.5, 1.5]}},
   {"data": {"name": "p2l"}, "transform": [{"filter": "datum.l=='yd2'"}], "mark": {"type": "line", "color": "#f2e860", "strokeWidth": 1.3, "strokeDash": [1.5, 1.5]}},
   {"data": {"name": "p2l"}, "transform": [{"filter": "datum.l=='yd3'"}], "mark": {"type": "line", "color": "#f2e860", "strokeWidth": 1.3, "strokeDash": [1.5, 1.5]}},
   {"data": {"name": "p2c"}, "mark": {"type": "rule", "color": "#dd1c1c", "strokeWidth": 1.6},
    "encoding": {"y": {"field": "hi", "type": "quantitative", "title": null, "scale": {"domain": [2160.11, 2171.03], "nice": false, "zero": false, "padding": 0}, "axis": {"orient": "right", "format": ".2f", "values": [2160.5,2161,2161.5,2162,2162.5,2163,2163.5,2164,2164.5,2165,2165.5,2166,2166.5,2167,2167.5,2168,2168.5,2169,2169.5,2170,2170.5]}}, "y2": {"field": "bt"}}},
   {"data": {"name": "p2c"}, "mark": {"type": "rule", "color": "#2e9e2e", "strokeWidth": 1.6},
    "encoding": {"y": {"field": "bb", "type": "quantitative", "title": null, "scale": {"domain": [2160.11, 2171.03], "nice": false, "zero": false, "padding": 0}, "axis": {"orient": "right", "format": ".2f", "values": [2160.5,2161,2161.5,2162,2162.5,2163,2163.5,2164,2164.5,2165,2165.5,2166,2166.5,2167,2167.5,2168,2168.5,2169,2169.5,2170,2170.5]}}, "y2": {"field": "lo"}}},
   {"data": {"name": "p2c"}, "transform": [{"filter": "datum.d=='up'"}], "mark": {"type": "bar", "width": 5, "color": "#ffffff"},
    "encoding": {"y": {"field": "bt", "type": "quantitative", "title": null, "scale": {"domain": [2160.11, 2171.03], "nice": false, "zero": false, "padding": 0}, "axis": {"orient": "right", "format": ".2f", "values": [2160.5,2161,2161.5,2162,2162.5,2163,2163.5,2164,2164.5,2165,2165.5,2166,2166.5,2167,2167.5,2168,2168.5,2169,2169.5,2170,2170.5]}}, "y2": {"field": "bb"}}},
   {"data": {"name": "p2c"}, "transform": [{"filter": "datum.d=='down'"}], "mark": {"type": "bar", "width": 5, "color": "#f28ac4"},
    "encoding": {"y": {"field": "bt", "type": "quantitative", "title": null, "scale": {"domain": [2160.11, 2171.03], "nice": false, "zero": false, "padding": 0}, "axis": {"orient": "right", "format": ".2f", "values": [2160.5,2161,2161.5,2162,2162.5,2163,2163.5,2164,2164.5,2165,2165.5,2166,2166.5,2167,2167.5,2168,2168.5,2169,2169.5,2170,2170.5]}}, "y2": {"field": "bb"}}},
   {"data": {"name": "p2c"}, "transform": [{"filter": "datum.hi>datum.bt"}], "mark": {"type": "tick", "orient": "horizontal", "color": "#ff7a7a", "size": 7, "thickness": 1.8},
    "encoding": {"y": {"field": "hi", "type": "quantitative", "title": null, "scale": {"domain": [2160.11, 2171.03], "nice": false, "zero": false, "padding": 0}, "axis": {"orient": "right", "format": ".2f", "values": [2160.5,2161,2161.5,2162,2162.5,2163,2163.5,2164,2164.5,2165,2165.5,2166,2166.5,2167,2167.5,2168,2168.5,2169,2169.5,2170,2170.5]}}}},
   {"data": {"name": "p2c"}, "mark": {"type": "tick", "orient": "horizontal", "color": "#86e086", "size": 7, "thickness": 1.8},
    "encoding": {"y": {"field": "lo", "type": "quantitative", "title": null, "scale": {"domain": [2160.11, 2171.03], "nice": false, "zero": false, "padding": 0}, "axis": {"orient": "right", "format": ".2f", "values": [2160.5,2161,2161.5,2162,2162.5,2163,2163.5,2164,2164.5,2165,2165.5,2166,2166.5,2167,2167.5,2168,2168.5,2169,2169.5,2170,2170.5]}}}},
   {"data": {"name": "p2c"}, "transform": [{"filter": "datum.d=='gap'"}], "mark": {"type": "tick", "orient": "horizontal", "color": "#86e086", "size": 7, "thickness": 1.8},
    "encoding": {"y": {"field": "bb", "type": "quantitative", "title": null, "scale": {"domain": [2160.11, 2171.03], "nice": false, "zero": false, "padding": 0}, "axis": {"orient": "right", "format": ".2f", "values": [2160.5,2161,2161.5,2162,2162.5,2163,2163.5,2164,2164.5,2165,2165.5,2166,2166.5,2167,2167.5,2168,2168.5,2169,2169.5,2170,2170.5]}}}},
   {"data": {"name": "p2d"}, "transform": [{"filter": "datum.k=='blue'"}], "mark": {"type": "circle", "color": "#2450ff", "size": 18, "opacity": 1, "stroke": "#9ab0ff", "strokeWidth": 0.6}},
   {"data": {"name": "p2d"}, "transform": [{"filter": "datum.k=='red'"}], "mark": {"type": "circle", "color": "#e82020", "size": 18, "opacity": 1, "stroke": "#ff9a9a", "strokeWidth": 0.6}},
   {"data": {"name": "p2a"}, "mark": {"type": "rule", "color": "#ff1a1a", "strokeWidth": 1.5}, "encoding": {"x2": {"field": "i2"}, "y2": {"field": "q"}}},
   {"data": {"name": "p2m"}, "mark": {"type": "rect", "color": "#f4f4f4", "stroke": "#ffffff", "strokeWidth": 0.5}, "encoding": {"x2": {"field": "i2"}, "y2": {"field": "q"}}},
   {"data": {"name": "p2t"}, "transform": [{"filter": "datum.k=='price'"}], "mark": {"type": "text", "align": "center", "fontSize": 5, "color": "#111111"}, "encoding": {"text": {"field": "t"}}},
   {"data": {"name": "p2t"}, "transform": [{"filter": "datum.k=='copy'"}], "mark": {"type": "text", "align": "left", "fontSize": 5, "color": "#b8b8b8"}, "encoding": {"text": {"field": "t"}}},
   {"data": {"name": "p2t"}, "transform": [{"filter": "datum.k=='ticks'"}], "mark": {"type": "text", "align": "right", "fontSize": 5.5, "color": "#c8c8c8"}, "encoding": {"text": {"field": "t"}}}
  ]
 },

 {"width": 201, "height": 321, "view": {"fill": "#000000", "stroke": null},
  "encoding": {
   "x": {"field": "i", "type": "quantitative", "title": null, "scale": {"domain": [-0.384, 22.8], "nice": false, "zero": false, "padding": 0},
    "axis": {"values": [1, 4, 7, 10, 13, 16, 19], "labelExpr": "datum.value==1?'09:43':datum.value==4?'09:44':datum.value==7?'09:45':datum.value==10?'09:47':datum.value==13?'09:48':datum.value==16?'09:51':'09:52'"}},
   "y": {"field": "p", "type": "quantitative", "title": null, "scale": {"domain": [2164.878, 2168.952], "nice": false, "zero": false, "padding": 0},
    "axis": {"orient": "right", "format": ".2f", "values": [2165,2165.25,2165.5,2165.75,2166.25,2166.5,2166.75,2167,2167.25,2167.5,2167.75,2168,2168.25,2168.5,2168.75]}}
  },
  "layer": [
   {"data": {"name": "p3b"}, "transform": [{"filter": "datum.b=='dko'"}], "mark": {"type": "area", "orient": "vertical", "color": "#3c310e"}, "encoding": {"y2": {"field": "q"}}},
   {"data": {"name": "p3b"}, "transform": [{"filter": "datum.b=='salmon'"}], "mark": {"type": "area", "orient": "vertical", "color": "#d9846c"}, "encoding": {"y2": {"field": "q"}}},
   {"data": {"name": "p3b"}, "transform": [{"filter": "datum.b=='pink'"}], "mark": {"type": "area", "orient": "vertical", "color": "#df7a8e"}, "encoding": {"y2": {"field": "q"}}},
   {"data": {"name": "p3b"}, "transform": [{"filter": "datum.b=='arc'"}], "mark": {"type": "area", "orient": "vertical", "color": "#f0c060", "opacity": 0.35, "interpolate": "monotone"}, "encoding": {"y2": {"field": "q"}}},
   {"data": {"name": "p3b"}, "transform": [{"filter": "datum.b=='olive'"}], "mark": {"type": "area", "orient": "vertical", "color": "#8c8a1e", "opacity": 0.85, "interpolate": "monotone"}, "encoding": {"y2": {"field": "q"}}},
   {"data": {"name": "p3r"}, "mark": {"type": "rect", "color": "#b01818", "opacity": 0.45}, "encoding": {"x2": {"field": "i2"}, "y2": {"field": "q"}}},
   {"data": {"name": "p3l"}, "transform": [{"filter": "datum.l=='ydiag'"}], "mark": {"type": "line", "color": "#d0b040", "strokeWidth": 0.8}},
   {"data": {"name": "p3l"}, "transform": [{"filter": "datum.l=='odot'"}], "mark": {"type": "line", "color": "#f0a020", "strokeWidth": 1.2, "strokeDash": [1.5, 1.5]}},
   {"data": {"name": "p3l"}, "transform": [{"filter": "datum.l=='wdot'"}], "mark": {"type": "line", "color": "#ffffff", "strokeWidth": 1.3, "strokeDash": [1.5, 1.5]}},
   {"data": {"name": "p3c"}, "mark": {"type": "rule", "color": "#cc1414", "strokeWidth": 1.6},
    "encoding": {"y": {"field": "hi", "type": "quantitative", "title": null, "scale": {"domain": [2164.878, 2168.952], "nice": false, "zero": false, "padding": 0}, "axis": {"orient": "right", "format": ".2f", "values": [2165,2165.25,2165.5,2165.75,2166.25,2166.5,2166.75,2167,2167.25,2167.5,2167.75,2168,2168.25,2168.5,2168.75]}}, "y2": {"field": "bt"}}},
   {"data": {"name": "p3c"}, "mark": {"type": "rule", "color": "#2e9a2e", "strokeWidth": 1.6},
    "encoding": {"y": {"field": "bb", "type": "quantitative", "title": null, "scale": {"domain": [2164.878, 2168.952], "nice": false, "zero": false, "padding": 0}, "axis": {"orient": "right", "format": ".2f", "values": [2165,2165.25,2165.5,2165.75,2166.25,2166.5,2166.75,2167,2167.25,2167.5,2167.75,2168,2168.25,2168.5,2168.75]}}, "y2": {"field": "lo"}}},
   {"data": {"name": "p3c"}, "transform": [{"filter": "datum.d=='up'"}], "mark": {"type": "bar", "width": 5, "color": "#3fd43f", "stroke": "#ffffff", "strokeWidth": 1.2},
    "encoding": {"y": {"field": "bt", "type": "quantitative", "title": null, "scale": {"domain": [2164.878, 2168.952], "nice": false, "zero": false, "padding": 0}, "axis": {"orient": "right", "format": ".2f", "values": [2165,2165.25,2165.5,2165.75,2166.25,2166.5,2166.75,2167,2167.25,2167.5,2167.75,2168,2168.25,2168.5,2168.75]}}, "y2": {"field": "bb"}}},
   {"data": {"name": "p3c"}, "transform": [{"filter": "datum.d=='down'"}], "mark": {"type": "bar", "width": 5, "color": "#dd1c1c", "stroke": "#ffffff", "strokeWidth": 1.2},
    "encoding": {"y": {"field": "bt", "type": "quantitative", "title": null, "scale": {"domain": [2164.878, 2168.952], "nice": false, "zero": false, "padding": 0}, "axis": {"orient": "right", "format": ".2f", "values": [2165,2165.25,2165.5,2165.75,2166.25,2166.5,2166.75,2167,2167.25,2167.5,2167.75,2168,2168.25,2168.5,2168.75]}}, "y2": {"field": "bb"}}},
   {"data": {"name": "p3c"}, "transform": [{"filter": "datum.hi>datum.bt"}], "mark": {"type": "tick", "orient": "horizontal", "color": "#f07a7a", "size": 6, "thickness": 1.8},
    "encoding": {"y": {"field": "hi", "type": "quantitative", "title": null, "scale": {"domain": [2164.878, 2168.952], "nice": false, "zero": false, "padding": 0}, "axis": {"orient": "right", "format": ".2f", "values": [2165,2165.25,2165.5,2165.75,2166.25,2166.5,2166.75,2167,2167.25,2167.5,2167.75,2168,2168.25,2168.5,2168.75]}}}},
   {"data": {"name": "p3c"}, "mark": {"type": "tick", "orient": "horizontal", "color": "#90e890", "size": 6, "thickness": 1.8},
    "encoding": {"y": {"field": "lo", "type": "quantitative", "title": null, "scale": {"domain": [2164.878, 2168.952], "nice": false, "zero": false, "padding": 0}, "axis": {"orient": "right", "format": ".2f", "values": [2165,2165.25,2165.5,2165.75,2166.25,2166.5,2166.75,2167,2167.25,2167.5,2167.75,2168,2168.25,2168.5,2168.75]}}}},
   {"data": {"name": "p3c"}, "transform": [{"filter": "datum.d=='gap'"}], "mark": {"type": "tick", "orient": "horizontal", "color": "#f07a7a", "size": 6, "thickness": 1.8},
    "encoding": {"y": {"field": "bt", "type": "quantitative", "title": null, "scale": {"domain": [2164.878, 2168.952], "nice": false, "zero": false, "padding": 0}, "axis": {"orient": "right", "format": ".2f", "values": [2165,2165.25,2165.5,2165.75,2166.25,2166.5,2166.75,2167,2167.25,2167.5,2167.75,2168,2168.25,2168.5,2168.75]}}}},
   {"data": {"name": "p3c"}, "transform": [{"filter": "datum.d=='gap'"}], "mark": {"type": "tick", "orient": "horizontal", "color": "#90e890", "size": 6, "thickness": 1.8},
    "encoding": {"y": {"field": "bb", "type": "quantitative", "title": null, "scale": {"domain": [2164.878, 2168.952], "nice": false, "zero": false, "padding": 0}, "axis": {"orient": "right", "format": ".2f", "values": [2165,2165.25,2165.5,2165.75,2166.25,2166.5,2166.75,2167,2167.25,2167.5,2167.75,2168,2168.25,2168.5,2168.75]}}}},
   {"data": {"name": "p3a"}, "mark": {"type": "rule", "color": "#ff1a1a", "strokeWidth": 1.5}, "encoding": {"x2": {"field": "i2"}, "y2": {"field": "q"}}},
   {"data": {"name": "p3m"}, "mark": {"type": "rect", "color": "#f4f4f4", "stroke": "#ffffff", "strokeWidth": 0.5}, "encoding": {"x2": {"field": "i2"}, "y2": {"field": "q"}}},
   {"data": {"name": "p3t"}, "transform": [{"filter": "datum.k=='price'"}], "mark": {"type": "text", "align": "center", "fontSize": 5, "color": "#111111"}, "encoding": {"text": {"field": "t"}}},
   {"data": {"name": "p3t"}, "transform": [{"filter": "datum.k=='copy'"}], "mark": {"type": "text", "align": "left", "fontSize": 5, "color": "#b8b8b8"}, "encoding": {"text": {"field": "t"}}}
  ]
 },

 {"width": 203, "height": 18, "data": {"values": [{"s": 1}]}, "mark": {"type": "rect", "color": "#e3e3e3"},
  "encoding": {"x": {"datum": 0, "type": "quantitative", "scale": {"domain": [0, 1]}, "axis": null}, "x2": {"datum": 1},
   "y": {"datum": 2, "type": "quantitative", "scale": {"domain": [0, 18]}, "axis": null}, "y2": {"datum": 8}}},
 {"width": 210, "height": 18, "data": {"values": [{"s": 1}]}, "mark": {"type": "rect", "color": "#e3e3e3"},
  "encoding": {"x": {"datum": 0, "type": "quantitative", "scale": {"domain": [0, 1]}, "axis": null}, "x2": {"datum": 1},
   "y": {"datum": 2, "type": "quantitative", "scale": {"domain": [0, 18]}, "axis": null}, "y2": {"datum": 8}}},
 {"width": 225, "height": 18, "data": {"values": [{"s": 1}]}, "mark": {"type": "rect", "color": "#e3e3e3"},
  "encoding": {"x": {"datum": 0, "type": "quantitative", "scale": {"domain": [0, 1]}, "axis": null}, "x2": {"datum": 1},
   "y": {"datum": 2, "type": "quantitative", "scale": {"domain": [0, 18]}, "axis": null}, "y2": {"datum": 8}}}
]
}
